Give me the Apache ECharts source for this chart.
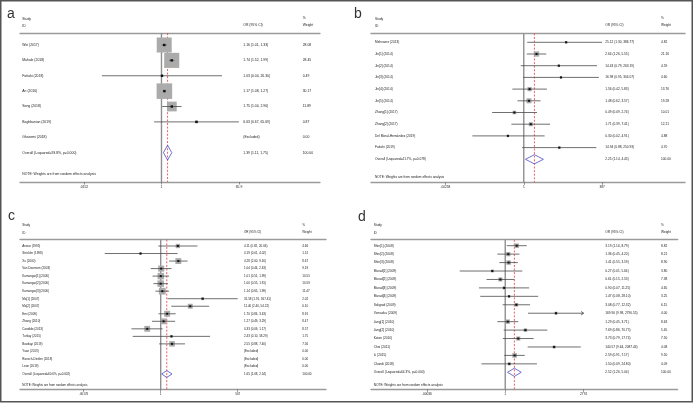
<!DOCTYPE html>
<html><head><meta charset="utf-8">
<script src="https://cdn.jsdelivr.net/npm/echarts@6/dist/echarts.min.js"></script>
<style>html,body{margin:0;padding:0;background:#fff}#c{width:694px;height:404px}</style>
</head><body><div id="c"></div>
<script>
// ---------------- DATA ----------------
// Panel a
const studiesA = ["Wei (2017)","Mahale (2018)","Fattahi (2018)","An (2016)","Song (2018)","Baghbanian (2019)","Ghasemi (2018)"];
const orA = [1.16, 1.74, 1.03, 1.17, 1.75, 6.63, null];
const loA = [1.01, 1.52, 0.04, 1.08, 1.04, 0.67, null];
const hiA = [1.33, 1.99, 26.30, 1.27, 2.96, 65.69, null];
const wA  = [28.08, 28.45, 0.49, 30.17, 11.89, 0.87, 0.00];
const truncA = [false,false,false,false,false,false,false];
const overallA = [1.39, 1.11, 1.75];
const overallLabelA = "Overall (I-squared=93.8%, p=0.000)";
const tickValsA = [0.0152, 1, 65.9];
const tickLabelsA = [".0152", "1", "65.9"];

// Panel b
const studiesB = ["Mehvaere (2013)","Jin[1] (2014)","Jin[2] (2014)","Jin[3] (2014)","Jin[4] (2014)","Jin[5] (2014)","Zhang[1] (2017)","Zhang[2] (2017)","Del Moral-Hernández (2019)","Fattahi (2019)"];
const orB = [25.12, 2.64, 14.43, 16.98, 1.56, 1.48, 0.49, 1.71, 0.30, 14.94];
const loB = [1.30, 1.26, 0.79, 0.95, 0.42, 0.62, 0.09, 0.39, 0.02, 0.88];
const hiB = [386.77, 5.55, 263.19, 304.07, 5.83, 3.57, 2.74, 7.41, 4.91, 250.93];
const wB  = [4.82, 21.16, 4.59, 4.60, 13.76, 19.28, 10.01, 12.21, 4.88, 4.70];
const truncB = [false,false,false,false,false,false,false,false,false,false];
const overallB = [2.25, 1.14, 4.45];
const overallLabelB = "Overall (I-squared=41.7%, p=0.078)";
const tickValsB = [0.00258, 1, 387];
const tickLabelsB = [".00258", "1", "387"];

// Panel c
const studiesC = ["Anwar (1995)","Strickler (1998)","Xu (2000)","Van Doornum (2003)","Kamangar[1] (2006)","Kamangar[2] (2006)","Kamangar[3] (2006)","Ma[1] (2007)","Ma[2] (2007)","Emi (2009)","Zhang (2010)","Candido (2013)","Turkay (2015)","Bozdayi (2019)","Yuan (2013)","Roesch-Dietlen (2018)","Leon (2019)"];
const orC = [4.11, 0.19, 4.28, 1.04, 1.01, 1.00, 1.14, 31.58, 11.40, 1.70, 1.27, 0.33, 2.43, 2.55, null, null, null];
const loC = [0.82, 0.01, 2.00, 0.44, 0.51, 0.55, 0.65, 1.76, 2.40, 0.84, 0.49, 0.09, 0.10, 0.88, null, null, null];
const hiC = [20.66, 4.02, 9.16, 2.43, 1.99, 1.81, 1.99, 567.41, 54.22, 3.43, 3.29, 1.17, 58.29, 7.40, null, null, null];
const wC  = [4.66, 1.51, 8.67, 9.19, 10.55, 10.59, 11.47, 2.02, 6.10, 8.91, 8.47, 8.57, 1.75, 7.56, 0.00, 0.00, 0.00];
const truncC = studiesC.map(() => false);
const overallC = [1.65, 1.08, 2.54];
const overallLabelC = "Overall (I-squared=60.6%, p=0.002)";
const tickValsC = [0.00176, 1, 567];
const tickLabelsC = [".00176", "1", "567"];

// Panel d
const studiesD = ["Shin[1] (2008)","Shin[2] (2008)","Shin[3] (2008)","Murad[1] (2009)","Murad[2] (2009)","Murad[3] (2009)","Murad[4] (2009)","Saligrad (2009)","Yamaoka (2009)","Jang[1] (2010)","Jang[2] (2010)","Kotan (2010)","Choi (2011)","Li (2015)","Chandi (2018)"];
const orD = [3.19, 1.36, 1.41, 0.27, 0.61, 0.90, 1.47, 3.08, 169.90, 1.29, 7.69, 3.73, 140.57, 2.59, 1.50];
const loD = [1.16, 0.45, 0.55, 0.01, 0.15, 0.07, 0.08, 0.77, 9.98, 0.45, 0.86, 0.79, 9.64, 0.91, 0.09];
const hiD = [8.79, 4.20, 3.59, 5.64, 2.53, 11.25, 28.10, 12.32, 2790.55, 3.71, 70.75, 17.74, 2087.44, 7.17, 24.80];
const wD  = [8.82, 8.21, 8.90, 3.80, 7.38, 4.65, 3.25, 6.15, 4.00, 8.63, 5.45, 7.50, 4.08, 9.50, 4.09];
const truncD = [false,false,false,false,false,false,false,false,true,false,false,false,false,false,false];
const overallD = [2.52, 1.26, 5.04];
const overallLabelD = "Overall (I-squared=64.3%, p=0.000)";
const tickValsD = [0.00036, 1, 2791];
const tickLabelsD = [".00036", "1", "2791"];

const noteText = "NOTE: Weights are from random effects analysis";
const headers = {study: "Study", id: "ID", or: "OR (95% CI)", pct: "%", weight: "Weight"};
const panelLetters = ["a", "b", "c", "d"];

// ---------------- LAYOUT / STYLE ----------------
const FONT = "Liberation Sans";
const TXT = "#1a1a1a";
const layouts = [
  {left:20, right:320, top:33, bottom:182, row0:45, gap:15.38, noteOff:1.38, xMin:-3.32, xMax:3.72,
   colS:22.3, colOR:243.3, colW:302.7, hS:19.3, hID:25.7, hPct:18.3, hOR:25, fs:3.4, boxK:2.83, dot:2.4, dia:7.4, tickDy:6, letter:[7,14]},
  {left:371, right:685, top:33.3, bottom:182.3, row0:42.3, gap:11.7, noteOff:1.49, xMin:-5.05, xMax:5.33,
   colS:375, colOR:605.3, colW:661, hS:19, hID:25.7, hPct:18.3, hOR:25, fs:3.2, boxK:1.15, dot:2, dia:4.6, tickDy:5.5, letter:[354,14]},
  {left:20, right:326, top:239.7, bottom:389.3, row0:246, gap:7.53, noteOff:1.46, xMin:-5.03, xMax:5.91,
   colS:22.3, colOR:244, colW:302.3, hS:225.3, hID:232.7, hPct:224.7, hOR:232, fs:3.0, boxK:2.0, dot:2, dia:3.4, tickDy:5, letter:[8,216]},
  {left:371, right:677.7, top:239.7, bottom:389.3, row0:245.7, gap:8.44, noteOff:1.47, xMin:-5.90, xMax:7.58,
   colS:373.7, colOR:605.3, colW:661, hS:225.3, hID:232.7, hPct:224.7, hOR:232, fs:3.2, boxK:1.5, dot:2, dia:4.1, tickDy:5, letter:[358,217]}
];

const panelsData = [
  {studies:studiesA, or:orA, lo:loA, hi:hiA, w:wA, tr:truncA, overall:overallA, overallLabel:overallLabelA, tv:tickValsA, tl:tickLabelsA},
  {studies:studiesB, or:orB, lo:loB, hi:hiB, w:wB, tr:truncB, overall:overallB, overallLabel:overallLabelB, tv:tickValsB, tl:tickLabelsB},
  {studies:studiesC, or:orC, lo:loC, hi:hiC, w:wC, tr:truncC, overall:overallC, overallLabel:overallLabelC, tv:tickValsC, tl:tickLabelsC},
  {studies:studiesD, or:orD, lo:loD, hi:hiD, w:wD, tr:truncD, overall:overallD, overallLabel:overallLabelD, tv:tickValsD, tl:tickLabelsD}
];

const lg = v => Math.log10(v);
const f2 = v => v.toFixed(2);

const grid = [], xAxis = [], yAxis = [], series = [], graphicEls = [];

panelsData.forEach((P, k) => {
  const L = layouts[k];
  const n = P.studies.length;
  const yMin = (L.top - L.row0) / L.gap;
  const yMax = (L.bottom - L.row0) / L.gap;
  grid.push({left: L.left, top: L.top, width: L.right - L.left, height: L.bottom - L.top,
             containLabel: false, outerBoundsMode: 'none'});
  const tickLogs = P.tv.map(lg);
  const fmt = v => { for (let i = 0; i < tickLogs.length; i++) if (Math.abs(v - tickLogs[i]) < 1e-6) return P.tl[i]; return ''; };
  xAxis.push({
    type: 'value', gridIndex: k, min: L.xMin, max: L.xMax, position: 'bottom',
    axisLine: {show: true, onZero: false, lineStyle: {color: '#9a9a9a', width: 1.3}},
    axisTick: {show: true, customValues: tickLogs, length: 2.5, lineStyle: {color: '#666', width: 0.7}},
    axisLabel: {show: true, customValues: tickLogs, formatter: fmt, fontSize: L.fs, fontFamily: FONT, color: TXT, margin: L.tickDy - L.fs * 0.6},
    splitLine: {show: false}
  });
  xAxis.push({
    type: 'value', gridIndex: k, min: L.xMin, max: L.xMax, position: 'top',
    axisLine: {show: true, onZero: false, lineStyle: {color: '#9a9a9a', width: 1.3}},
    axisTick: {show: false}, axisLabel: {show: false}, splitLine: {show: false}
  });
  yAxis.push({type: 'value', gridIndex: k, min: yMin, max: yMax, inverse: true, show: false});
  const xi = 2 * k;

  // reference lines (null line at 1 and overall dashed)
  series.push({
    type: 'custom', xAxisIndex: xi, yAxisIndex: k, silent: true, z: 1,
    data: [[lg(1), 0], [lg(P.overall[0]), 1]],
    encode: {x: 0},
    renderItem: (params, api) => {
      const cs = params.coordSys;
      const x = api.coord([api.value(0), 0])[0];
      const red = api.value(1) === 1;
      return {type: 'line', shape: {x1: x, y1: cs.y, x2: x, y2: cs.y + cs.height},
        style: red ? {stroke: '#e23b3b', lineWidth: 0.8, lineDash: [2, 1.6]} : {stroke: '#8f8f8f', lineWidth: 1.4}};
    }
  });

  // study rows
  const rows = [];
  for (let i = 0; i < n; i++) {
    if (P.or[i] == null) continue;
    rows.push([i, lg(P.lo[i]), lg(P.or[i]), lg(P.hi[i]), P.w[i], P.tr[i] ? 1 : 0]);
  }
  series.push({
    type: 'custom', xAxisIndex: xi, yAxisIndex: k, silent: true, z: 3,
    data: rows, encode: {x: [1, 2, 3], y: 0},
    renderItem: (params, api) => {
      const row = api.value(0);
      const p0 = api.coord([api.value(1), row]);
      const p1 = api.coord([api.value(3), row]);
      const pc = api.coord([api.value(2), row]);
      const side = L.boxK * Math.sqrt(api.value(4));
      const ch = [
        {type: 'rect', shape: {x: pc[0] - side / 2, y: pc[1] - side / 2, width: side, height: side}, style: {fill: '#ababab'}},
        {type: 'line', shape: {x1: p0[0], y1: p0[1], x2: p1[0], y2: p1[1]}, style: {stroke: '#4a4a4a', lineWidth: 0.8}},
        {type: 'rect', shape: {x: pc[0] - L.dot / 2, y: pc[1] - L.dot / 2, width: L.dot, height: L.dot}, style: {fill: '#111'}}
      ];
      if (api.value(5) === 1) {
        ch.push({type: 'polyline', shape: {points: [[p1[0] - 2.6, p1[1] - 1.8], [p1[0], p1[1]], [p1[0] - 2.6, p1[1] + 1.8]]},
          style: {stroke: '#4a4a4a', fill: null, lineWidth: 0.8}});
      }
      return {type: 'group', children: ch};
    }
  });

  // overall diamond
  series.push({
    type: 'custom', xAxisIndex: xi, yAxisIndex: k, silent: true, z: 4,
    data: [[n, lg(P.overall[1]), lg(P.overall[0]), lg(P.overall[2])]],
    encode: {x: [1, 2, 3], y: 0},
    renderItem: (params, api) => {
      const row = api.value(0);
      const l = api.coord([api.value(1), row]);
      const c = api.coord([api.value(2), row]);
      const r = api.coord([api.value(3), row]);
      const h = L.dia;
      return {type: 'polygon', shape: {points: [l, [c[0], c[1] - h], r, [c[0], c[1] + h]]},
        style: {stroke: '#4d4dc2', fill: null, lineWidth: 0.8}};
    }
  });

  // text columns
  const textRows = [];
  for (let i = 0; i < n; i++) {
    const ex = P.or[i] == null;
    textRows.push({row: i, s: P.studies[i],
      o: ex ? "(Excluded)" : `${f2(P.or[i])} (${f2(P.lo[i])}, ${f2(P.hi[i])})`, w: f2(P.w[i])});
  }
  textRows.push({row: n, s: P.overallLabel, o: `${f2(P.overall[0])} (${f2(P.overall[1])}, ${f2(P.overall[2])})`, w: "100.00"});
  textRows.push({row: n + L.noteOff, s: noteText, o: "", w: ""});
  series.push({
    type: 'custom', xAxisIndex: xi, yAxisIndex: k, silent: true, z: 5,
    data: textRows.map(t => [0, t.row]), encode: {y: 1},
    renderItem: (params, api) => {
      const t = textRows[params.dataIndex];
      const y = api.coord([0, api.value(1)])[1];
      const st = (x, s) => ({type: 'text', x: x, y: y,
        style: {text: s, fill: TXT, fontSize: L.fs, fontFamily: FONT, align: 'left', verticalAlign: 'middle'}});
      return {type: 'group', children: [st(L.colS, t.s), st(L.colOR, t.o), st(L.colW, t.w)]};
    }
  });

  // headers and panel letter
  const ht = (x, y, s) => ({type: 'text', x: x, y: y, silent: true,
    style: {text: s, fill: TXT, fontSize: L.fs, fontFamily: FONT, align: 'left', verticalAlign: 'middle'}});
  graphicEls.push(ht(L.colS, L.hS, headers.study), ht(L.colS, L.hID, headers.id),
    ht(L.colOR, L.hOR, headers.or), ht(L.colW, L.hPct, headers.pct), ht(L.colW, L.hOR, headers.weight));
  graphicEls.push({type: 'text', x: L.letter[0], y: L.letter[1], silent: true,
    style: {text: panelLetters[k], fill: '#333', fontSize: 14, fontFamily: FONT, align: 'left', verticalAlign: 'middle'}});
});

graphicEls.push({type: 'rect', silent: true, shape: {x: 0.75, y: 0.75, width: 691.5, height: 401},
  style: {fill: null, stroke: '#555', lineWidth: 1.5}});

const chart = echarts.init(document.getElementById('c'), null, {renderer: 'canvas'});
chart.setOption({
  animation: false,
  backgroundColor: '#ffffff',
  grid: grid, xAxis: xAxis, yAxis: yAxis, series: series,
  graphic: {elements: graphicEls}
});
</script>
</body></html>
